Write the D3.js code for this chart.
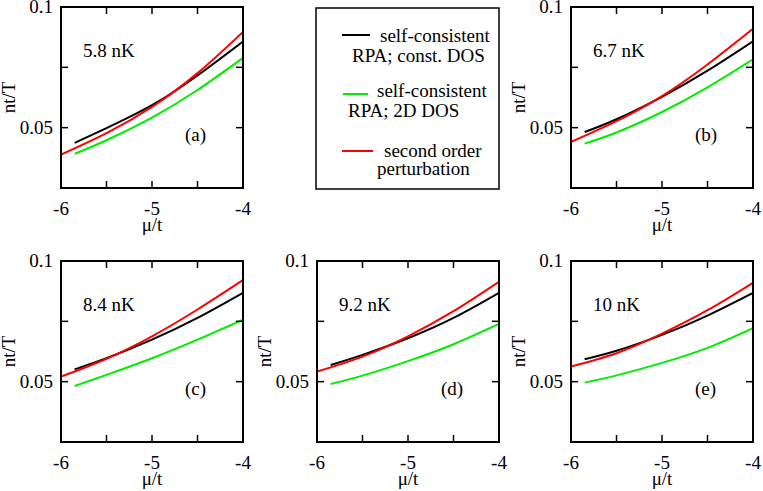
<!DOCTYPE html>
<html>
<head>
<meta charset="utf-8">
<script src="https://cdn.jsdelivr.net/npm/d3@7"></script>
<style>
  body { margin: 0; background: #fff; }
</style>
</head>
<body>
<div class="canvas"></div>
<script>
// ## DATA
const muRPA  = [-5.85, -5.5, -5.0, -4.5, -4.0];
const muPert = [-6.0, -5.5, -5.0, -4.5, -4.0];

const temps   = ['5.8 nK', '6.7 nK', '8.4 nK', '9.2 nK', '10 nK'];
const letters = ['(a)', '(b)', '(c)', '(d)', '(e)'];

// self-consistent RPA; const. DOS  (black)
const constDos = [
    [0.0437, 0.0498, 0.0593, 0.0716, 0.0857],
    [0.0482, 0.0535, 0.0628, 0.0736, 0.0858],
    [0.0551, 0.0597, 0.0674, 0.0764, 0.0868],
    [0.0569, 0.0611, 0.0680, 0.0764, 0.0868],
    [0.0593, 0.0628, 0.0694, 0.0774, 0.0868]
];
// self-consistent RPA; 2D DOS  (green)
const dos2d = [
    [0.0392, 0.0448, 0.0542, 0.0656, 0.0789],
    [0.0434, 0.0480, 0.0565, 0.0667, 0.0783],
    [0.0482, 0.0528, 0.0597, 0.0674, 0.0757],
    [0.0490, 0.0525, 0.0585, 0.0655, 0.0739],
    [0.0496, 0.0526, 0.0578, 0.0640, 0.0722]
];
// second order perturbation  (red)
const pert = [
    [0.0388, 0.0477, 0.0586, 0.0726, 0.0897],
    [0.0441, 0.0527, 0.0631, 0.0762, 0.0910],
    [0.0521, 0.0595, 0.0688, 0.0799, 0.0921],
    [0.0542, 0.0604, 0.0688, 0.0792, 0.0914],
    [0.0563, 0.0618, 0.0699, 0.0796, 0.0910]
];

const xMajor = [-6, -5, -4], xMinor = [-5.5, -4.5];
const yMajor = [0.05, 0.1], yMinor = [0.025, 0.075];

const legendItems = [
    { color: '#000000', lines: ['self-consistent', 'RPA; const. DOS'] },
    { color: '#00ee00', lines: ['self-consistent', 'RPA; 2D DOS'] },
    { color: '#ff0000', lines: ['second order', 'perturbation'] }
];

// ## LAYOUT
let width = 763, height = 491, pw = 182, ph = 181, tick = 7, fs = 19;
const origins = [[61, 7], [571, 7], [61, 261], [317, 261], [571, 261]];

const svg = d3.select('.canvas')
    .append('svg')
    .attr('width', width)
    .attr('height', height)
    .attr('font-family', '"Liberation Serif", "Times New Roman", Times, serif')
    .attr('font-size', fs)
    ;

const xScale = d3.scaleLinear().domain([-6, -4]).range([0, pw]);
const yScale = d3.scaleLinear().domain([0.025, 0.1]).range([ph, 0]);

const line = d3.line()
    .x(d => xScale(d[0]))
    .y(d => yScale(d[1]))
    .curve(d3.curveNatural)
    ;

origins.forEach((o, i) => {
    const g = svg.append('g').attr('transform', `translate(${o[0]}, ${o[1]})`);

    const clip = g.append('clipPath').attr('id', `clip${i}`);
    clip.append('rect').attr('width', pw).attr('height', ph);

    const curves = g.append('g').attr('clip-path', `url(#clip${i})`);
    const series = [
        { xs: muRPA, ys: dos2d[i], color: '#00ee00' },
        { xs: muRPA, ys: constDos[i], color: '#000000' },
        { xs: muPert, ys: pert[i], color: '#ff0000' }
    ];
    series.forEach(s => {
        curves.append('path')
            .datum(s.xs.map((x, k) => [x, s.ys[k]]))
            .attr('d', line)
            .attr('fill', 'none')
            .attr('stroke', s.color)
            .attr('stroke-width', 2)
            ;
    });

    // inward ticks on all four sides
    const xAll = xMajor.concat(xMinor), yAll = yMajor.concat(yMinor);
    const ticks = g.append('g').attr('stroke', '#000').attr('stroke-width', 1.5);
    xAll.forEach(v => {
        ticks.append('line').attr('x1', xScale(v)).attr('x2', xScale(v)).attr('y1', ph).attr('y2', ph - tick);
        ticks.append('line').attr('x1', xScale(v)).attr('x2', xScale(v)).attr('y1', 0).attr('y2', tick);
    });
    yAll.forEach(v => {
        ticks.append('line').attr('y1', yScale(v)).attr('y2', yScale(v)).attr('x1', 0).attr('x2', tick);
        ticks.append('line').attr('y1', yScale(v)).attr('y2', yScale(v)).attr('x1', pw).attr('x2', pw - tick);
    });

    g.append('rect')
        .attr('width', pw).attr('height', ph)
        .attr('fill', 'none').attr('stroke', '#000').attr('stroke-width', 2);

    xMajor.forEach(v => {
        g.append('text').attr('x', xScale(v)).attr('y', ph + 27)
            .attr('text-anchor', 'middle').text(v);
    });
    yMajor.forEach(v => {
        g.append('text').attr('x', -8).attr('y', yScale(v)).attr('dy', '0.33em')
            .attr('text-anchor', 'end').text(v);
    });

    g.append('text').attr('x', pw / 2).attr('y', ph + 43)
        .attr('text-anchor', 'middle').text('\u03bc/t');
    g.append('text')
        .attr('transform', `translate(-46, ${ph / 2}) rotate(-90)`)
        .attr('text-anchor', 'middle').text('nt/T');

    g.append('text').attr('x', 22).attr('y', 50).text(temps[i]);
    g.append('text').attr('x', 124).attr('y', 134).text(letters[i]);
});

// ## LEGEND
const lg = svg.append('g').attr('transform', 'translate(316, 8)');
lg.append('rect').attr('width', 183).attr('height', 181)
    .attr('fill', 'none').attr('stroke', '#000').attr('stroke-width', 1.5);

const legendPos = [
    { ly: 27, lx: [26, 54], tx: [64, 36], ty: [34, 54] },
    { ly: 86, lx: [27, 52], tx: [61, 32], ty: [89, 109] },
    { ly: 143, lx: [26, 57], tx: [68, 61], ty: [149, 167] }
];
legendItems.forEach((item, i) => {
    const p = legendPos[i];
    lg.append('line').attr('x1', p.lx[0]).attr('x2', p.lx[1]).attr('y1', p.ly).attr('y2', p.ly)
        .attr('stroke', item.color).attr('stroke-width', 2);
    item.lines.forEach((t, k) => {
        lg.append('text').attr('x', p.tx[k]).attr('y', p.ty[k]).text(t);
    });
});
</script>
</body>
</html>
